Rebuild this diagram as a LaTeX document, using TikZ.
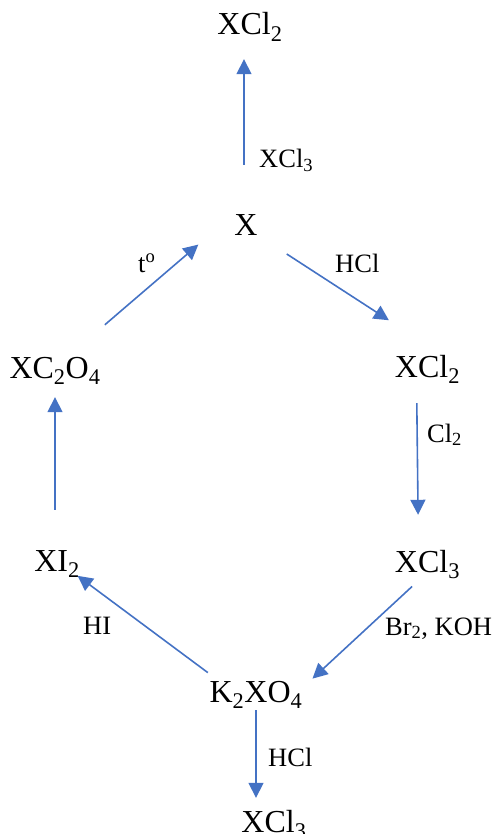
\documentclass[tikz,border=0pt]{standalone}
\usepackage{fontspec}
\setmainfont{Liberation Serif}
\usetikzlibrary{arrows.meta}
\definecolor{arrblue}{HTML}{4472C4}
\begin{document}
\begin{tikzpicture}[x=1pt,y=-1pt,
  chem/.style={font=\fontsize{32}{38}\selectfont, inner sep=0pt, text height=21pt, text depth=0pt, anchor=base},
  lab/.style={font=\fontsize{26.5}{32}\selectfont, inner sep=0pt, anchor=base west},
  arr/.style={arrblue, line width=1.6pt, -{Triangle[length=15pt,width=15pt]}}]
\useasboundingbox (0,0) rectangle (492,834);
% compounds
\node[chem] (topcl2) at (250,35) {XCl\textsubscript{2}};
\node[chem] (xnode) at (246,235) {X};
\node[chem] (lcomp) at (55,378) {XC\textsubscript{2}O\textsubscript{4}};
\node[chem] (rcl2) at (427.5,377) {XCl\textsubscript{2}};
\node[chem] (rcl3) at (427.5,572) {XCl\textsubscript{3}};
\node[chem] (xi2) at (57,571) {XI\textsubscript{2}};
\node[chem] (k2xo4) at (256,702) {K\textsubscript{2}XO\textsubscript{4}};
\node[chem] (botcl3) at (274,832) {XCl\textsubscript{3}};
% reagents
\node[lab] (lxcl3) at (259,168) {XCl\textsubscript{3}};
\node[lab] (lhcl1) at (335,272) {HCl};
\node[lab] (lcl2) at (427,442) {Cl\textsubscript{2}};
\node[lab] (lbrkoh) at (385,635) {Br\textsubscript{2}, KOH};
\node[lab] (lhi) at (83,634) {HI};
\node[lab] (lhcl2) at (268,766) {HCl};
\node[lab] (ltemp) at (138,272) {t\textsuperscript{o}};
% arrows
\draw[arr, shorten <=49pt, shorten >=24pt] ([xshift=-2pt]xnode.north) -- ([xshift=-2pt]xnode.north |- topcl2.south);
\draw[arr, shorten <=34.5pt, shorten >=85pt] (xnode.south east) -- (rcl2.east);
\draw[arr, shorten <=26pt, shorten >=36pt] ([xshift=-11pt]rcl2.south) -- ([xshift=-9pt]rcl3.north);
\draw[arr, shorten <=21pt, shorten >=13.5pt] (rcl3.south) -- ([yshift=-7pt]k2xo4.north east);
\draw[arr, shorten <=2pt, shorten >=25.7pt] ([yshift=7pt]k2xo4.north west) -- (xi2.center);
\draw[arr, shorten <=40pt, shorten >=19pt] (lcomp.south |- xi2.north) -- (lcomp.south);
\draw[arr, shorten <=65.6pt, shorten >=47.3pt] (lcomp.center) -- (xnode.north west);
\draw[arr, shorten <=8pt, shorten >=13pt] (k2xo4.south) -- (k2xo4.south |- botcl3.north);
\end{tikzpicture}
\end{document}
